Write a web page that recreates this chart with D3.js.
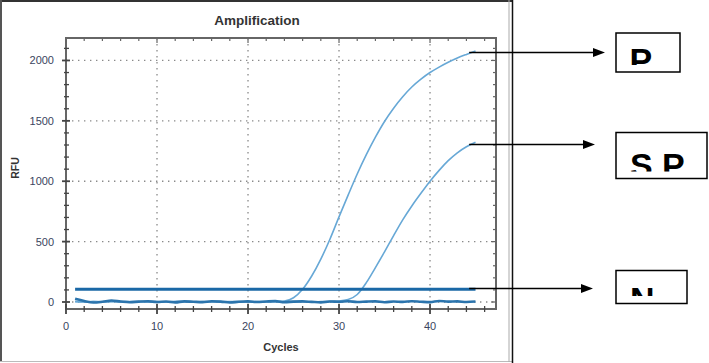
<!DOCTYPE html>
<meta charset="utf-8">
<style>
    body { margin: 0; background: #fff; }
    svg { display: block; font-family: "Liberation Sans", Arial, sans-serif; }
    .tickLabel { font-size: 11px; fill: #3a4560; }
    .axisTitle { font-size: 11px; font-weight: bold; fill: #333; }
    .grid { stroke: #8a8a8a; stroke-width: 1.3; stroke-dasharray: 1.4,4.6; }
</style>
<body>
<script src="https://cdnjs.cloudflare.com/ajax/libs/d3/7.8.5/d3.min.js"></script>
<script>
    // cycles 1..45
    var cycles = d3.range(1, 46);

    var positive = [4, 2, 3, 1, 5, 3, 2, 4, 1, 3, 2, 4, 3, 1, 2, 4, 3, 2, 1, 3, 4, 2, 5, 8, 35,
        105, 215, 355, 520, 705, 885, 1060, 1220, 1365, 1495, 1605, 1700, 1780, 1845, 1900,
        1945, 1985, 2020, 2050, 2078];

    var semiPositive = [3, 1, 4, 2, 3, 2, 4, 1, 3, 2, 1, 3, 4, 2, 3, 1, 2, 4, 3, 2, 1, 3, 2, 4, 3,
        2, 1, 3, 5, 8, 20, 62, 160, 285, 415, 550, 680, 795, 900, 1000,
        1090, 1170, 1235, 1285, 1322];

    var negative = [26, 8, -4, 2, 12, 4, -2, 3, 6, 0, 4, -3, 5, 2, -1, 6, 3, -4, 2, 5, 0, 4, 7, -2, 3,
        5, 1, -3, 4, 2, 6, 0, 3, 5, -2, 4, 1, 6, 2, -1, 8, 3, 5, 0, 4];

    var threshold = 105;

    var xTicks = [0, 10, 20, 30, 40];
    var yTicks = [0, 500, 1000, 1500, 2000];

    var labels = ["P", "S P", "N"];

    var width = 709,
        height = 363;

    var plot = { left: 66, top: 38, right: 496, bottom: 309 };

    var svg = d3.select("body").append("svg")
        .attr("width", width)
        .attr("height", height);

    var x = d3.scaleLinear().domain([0, 47.25]).range([plot.left, plot.right]);
    var y = d3.scaleLinear().domain([-58, 2186]).range([plot.bottom, plot.top]);

    // outer frame
    svg.append("line").attr("x1", 0).attr("x2", 512).attr("y1", 1).attr("y2", 1)
        .attr("stroke", "#333").attr("stroke-width", 2);
    svg.append("line").attr("x1", 1).attr("x2", 1).attr("y1", 0).attr("y2", 362)
        .attr("stroke", "#555").attr("stroke-width", 2);
    svg.append("line").attr("x1", 0).attr("x2", 512).attr("y1", 361.5).attr("y2", 361.5)
        .attr("stroke", "#bbb").attr("stroke-width", 1);
    svg.append("line").attr("x1", 509).attr("x2", 509).attr("y1", 0).attr("y2", 362)
        .attr("stroke", "#aaa").attr("stroke-width", 1);
    svg.append("line").attr("x1", 512.5).attr("x2", 512.5).attr("y1", 0).attr("y2", 363)
        .attr("stroke", "#111").attr("stroke-width", 1.5);

    // title
    svg.append("text")
        .attr("x", 257).attr("y", 25)
        .attr("text-anchor", "middle")
        .style("font-size", "13.5px").style("font-weight", "bold").style("fill", "#333")
        .text("Amplification");

    // grid
    var grid = svg.append("g");
    grid.selectAll(".gx").data(xTicks.filter(function(d) { return d > 0; }))
        .enter().append("line").attr("class", "grid")
        .attr("x1", function(d) { return x(d); }).attr("x2", function(d) { return x(d); })
        .attr("y1", plot.top).attr("y2", plot.bottom);
    grid.selectAll(".gy").data(yTicks)
        .enter().append("line").attr("class", "grid")
        .attr("y1", function(d) { return y(d); }).attr("y2", function(d) { return y(d); })
        .attr("x1", plot.left).attr("x2", plot.right);

    // frame
    svg.append("rect")
        .attr("x", plot.left).attr("y", plot.top)
        .attr("width", plot.right - plot.left).attr("height", plot.bottom - plot.top)
        .attr("fill", "none").attr("stroke", "#666").attr("stroke-width", 2);

    // minor / major ticks
    var xMinor = d3.range(0, 47, 2);
    var yMinor = d3.range(0, 2187, 100);
    var ticks = svg.append("g").attr("stroke", "#444");

    ticks.selectAll(".bx").data(xMinor).enter().append("line")
        .attr("x1", function(d) { return x(d); }).attr("x2", function(d) { return x(d); })
        .attr("y1", function(d) { return d % 10 ? plot.bottom - 3 : plot.bottom - 5; })
        .attr("y2", function(d) { return d % 10 ? plot.bottom + 3 : plot.bottom + 5; })
        .attr("stroke-width", function(d) { return d % 10 ? 1.3 : 1.8; });
    ticks.selectAll(".tx").data(xMinor).enter().append("line")
        .attr("x1", function(d) { return x(d); }).attr("x2", function(d) { return x(d); })
        .attr("y1", plot.top)
        .attr("y2", function(d) { return d % 10 ? plot.top + 3 : plot.top + 5; })
        .attr("stroke-width", 1.2).attr("stroke", "#666");
    ticks.selectAll(".ly").data(yMinor).enter().append("line")
        .attr("y1", function(d) { return y(d); }).attr("y2", function(d) { return y(d); })
        .attr("x1", function(d) { return d % 500 ? plot.left - 2 : plot.left - 4; })
        .attr("x2", function(d) { return d % 500 ? plot.left + 3 : plot.left + 4; })
        .attr("stroke-width", function(d) { return d % 500 ? 1.3 : 1.8; });
    ticks.selectAll(".ry").data(yMinor).enter().append("line")
        .attr("y1", function(d) { return y(d); }).attr("y2", function(d) { return y(d); })
        .attr("x1", plot.right)
        .attr("x2", function(d) { return d % 500 ? plot.right - 3 : plot.right - 5; })
        .attr("stroke-width", 1.2).attr("stroke", "#666");

    // tick labels
    svg.selectAll(".xl").data(xTicks).enter().append("text")
        .attr("class", "tickLabel")
        .attr("x", function(d) { return x(d); }).attr("y", plot.bottom + 21)
        .attr("text-anchor", "middle")
        .text(function(d) { return d; });
    svg.selectAll(".yl").data(yTicks).enter().append("text")
        .attr("class", "tickLabel")
        .attr("x", plot.left - 12).attr("y", function(d) { return y(d) + 4; })
        .attr("text-anchor", "end")
        .text(function(d) { return d; });

    svg.append("text").attr("class", "axisTitle")
        .attr("x", 281).attr("y", 351).attr("text-anchor", "middle").text("Cycles");
    svg.append("text").attr("class", "axisTitle")
        .attr("transform", "translate(19,168) rotate(-90)")
        .attr("text-anchor", "middle").style("font-size", "10.5px").text("RFU");

    // curves
    var line = d3.line()
        .x(function(d, i) { return x(cycles[i]); })
        .y(function(d) { return y(d); })
        .curve(d3.curveMonotoneX);

    svg.append("path").datum(positive).attr("d", line)
        .attr("fill", "none").attr("stroke", "#67a8d6").attr("stroke-width", 1.6);
    svg.append("path").datum(semiPositive).attr("d", line)
        .attr("fill", "none").attr("stroke", "#67a8d6").attr("stroke-width", 1.6);
    svg.append("path").datum(negative).attr("d", line)
        .attr("fill", "none").attr("stroke", "#2b74ad").attr("stroke-width", 2.6);

    svg.append("line")
        .attr("x1", x(1)).attr("x2", x(45))
        .attr("y1", y(threshold)).attr("y2", y(threshold))
        .attr("stroke", "#1a68a6").attr("stroke-width", 3);

    // annotations
    var boxes = [
        { x: 616, y: 33, w: 64, h: 39, clip: 65, tx: 629.5 },
        { x: 616, y: 132.5, w: 91, h: 46, clip: 171.5, tx: 630 },
        { x: 616, y: 270.5, w: 71, h: 33, clip: 296, tx: 630 }
    ];
    var ends = [positive[44] - 10, semiPositive[44] - 15, threshold + 13];
    var tips = [605, 595, 593];

    var defs = svg.append("defs");
    labels.forEach(function(lab, i) {
        var b = boxes[i];
        var ay = Math.round(y(ends[i])) + 0.5;
        svg.append("line")
            .attr("x1", x(44.3)).attr("x2", tips[i] - 10)
            .attr("y1", ay).attr("y2", ay)
            .attr("stroke", "#000").attr("stroke-width", 1.5);
        svg.append("path")
            .attr("d", "M" + (tips[i] - 12) + "," + (ay - 4.5) + "L" + tips[i] + "," + ay + "L" + (tips[i] - 12) + "," + (ay + 4.5) + "Z")
            .attr("fill", "#000");
        svg.append("rect")
            .attr("x", b.x).attr("y", b.y).attr("width", b.w).attr("height", b.h)
            .attr("fill", "#fff").attr("stroke", "#000").attr("stroke-width", 1.5);
        defs.append("clipPath").attr("id", "clip" + i)
            .append("rect").attr("x", b.x).attr("y", b.y).attr("width", b.w).attr("height", b.clip - b.y);
        svg.append("text")
            .attr("clip-path", "url(#clip" + i + ")")
            .attr("x", b.tx).attr("y", b.clip - 18 + 24.5 + (i == 2 ? 8 : 0) - (i == 1 ? 1 : 0))
            .style("font-size", "34px").style("font-weight", "bold").style("fill", "#000")
            .text(lab);
    });
</script>
</body>
